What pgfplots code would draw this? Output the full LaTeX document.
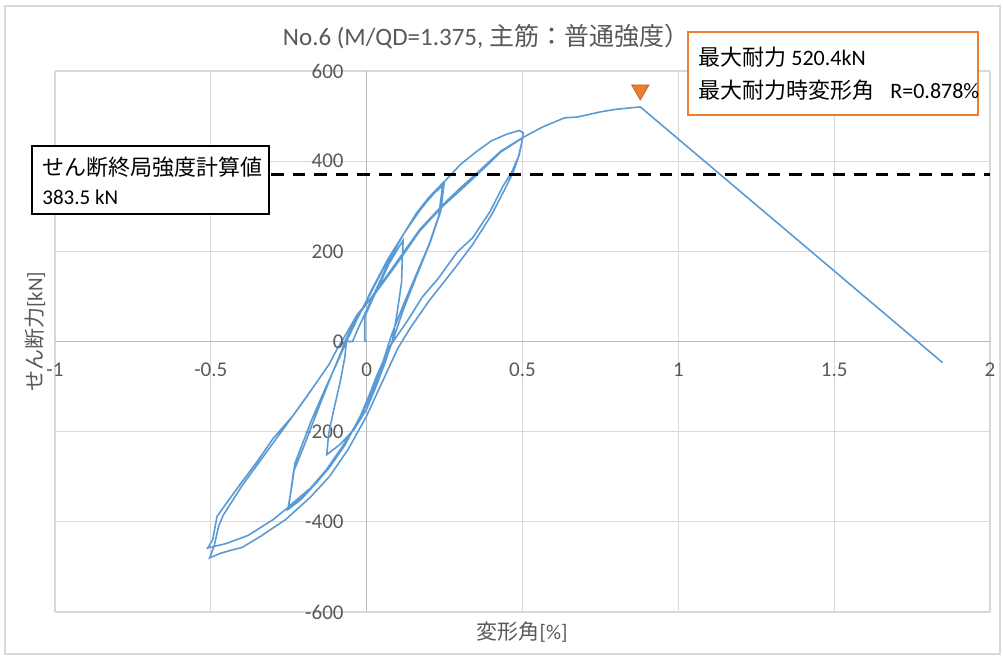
\documentclass[border=0pt]{standalone}
\usepackage{fontspec}
\setmainfont{Carlito}
\newfontfamily\jp{Noto Sans CJK JP}
\usepackage{pgfplots}
\pgfplotsset{compat=1.18}
\definecolor{exblue}{HTML}{5B9BD5}
\definecolor{exorange}{HTML}{ED7D31}
\definecolor{txtgray}{HTML}{595959}
\definecolor{gridgray}{HTML}{D9D9D9}

\begin{document}
\begin{tikzpicture}
\useasboundingbox (-27.5pt,-23pt) rectangle (474pt,306pt);
\draw[gray!30, line width=0.6pt] (-25pt,-21pt) rectangle (472.5pt,303pt);
\begin{axis}[
    scale only axis,
    width=467.5pt, height=270.5pt,
    xmin=-1, xmax=2, ymin=-600, ymax=600,
    axis lines=middle,
    axis line style={-, draw=gray!55, line width=0.6pt},
    xtick={-1,-0.5,0,0.5,1,1.5,2},
    ytick={-600,-400,-200,0,200,400,600},
    grid=major,
    major grid style={gridgray, line width=0.6pt},
    major tick length=0pt,
    ticklabel style={font=\fontsize{10.5}{12}\selectfont, text=txtgray},
    /pgf/number format/assume math mode=true,
    xticklabel style={yshift=-7pt},
    yticklabel style={xshift=-8pt},
]
% load-deformation history
\addplot[exblue, line width=0.8pt] coordinates {
(0,0) (-0.006,2) (-0.006,55) (0.01,80) (0.04,125) (0.07,170) (0.095,200) (0.117,224)
(0.114,178) (0.112,131) (0.096,56) (0.083,4) (0.06,-45) (0.03,-100) (0,-150) (-0.04,-195) (-0.085,-228) (-0.128,-251)
(-0.122,-205) (-0.105,-150) (-0.085,-90) (-0.07,-35) (-0.065,0) (-0.045,0)
(-0.03,25) (0.0,70) (0.04,130) (0.08,190) (0.12,240) (0.16,285) (0.2,320) (0.245,352)
(0.231,278) (0.2,215) (0.16,150) (0.12,85) (0.08,15) (0.05,-50) (0.02,-100) (-0.02,-165) (-0.07,-230) (-0.12,-280) (-0.17,-320) (-0.21,-350) (-0.253,-373)
(-0.24,-320) (-0.23,-270) (-0.176,-173) (-0.13,-100) (-0.09,-40) (-0.065,0)
(-0.03,50) (0.02,120) (0.07,185) (0.12,240) (0.17,290) (0.21,325) (0.248,348)
(0.238,290) (0.205,222) (0.16,145) (0.12,75) (0.085,5) (0.05,-60) (0.01,-125) (-0.03,-180) (-0.08,-235) (-0.13,-285) (-0.18,-325) (-0.25,-366)
(-0.235,-290) (-0.2,-230) (-0.15,-140) (-0.11,-70) (-0.08,-20) (-0.07,0)
(0.0,90) (0.06,170) (0.12,240) (0.18,300) (0.25,355) (0.3,392) (0.35,420) (0.4,445) (0.45,460) (0.49,468) (0.502,463) (0.5,449)
(0.487,410) (0.465,375) (0.437,344) (0.395,287) (0.34,230) (0.29,198) (0.23,140) (0.18,100) (0.13,45) (0.074,-11) (0.03,-80) (-0.013,-158) (-0.08,-240) (-0.16,-313) (-0.22,-350) (-0.3,-395) (-0.38,-430) (-0.45,-448) (-0.51,-458)
(-0.494,-440) (-0.48,-388) (-0.42,-330) (-0.35,-265) (-0.3,-215) (-0.237,-165) (-0.17,-100) (-0.12,-50) (-0.096,-18) (-0.08,0)
(-0.03,60) (0.03,109) (0.1,175) (0.17,245) (0.244,300) (0.3,335) (0.37,380) (0.43,420) (0.49,447) (0.5,450)
(0.49,415) (0.47,375) (0.445,340) (0.4,280) (0.34,215) (0.28,160) (0.2,90) (0.14,30) (0.1,-15) (0.05,-90) (0.0,-165) (-0.06,-240) (-0.12,-300) (-0.18,-345) (-0.26,-395) (-0.34,-432) (-0.4,-457) (-0.43,-462) (-0.47,-470) (-0.504,-480)
(-0.49,-455) (-0.475,-410) (-0.46,-385) (-0.4,-320) (-0.3,-225) (-0.2,-130) (-0.12,-50) (-0.09,-10) (-0.07,0)
(-0.03,55) (0.03,112) (0.1,180) (0.17,248) (0.244,303) (0.3,340) (0.37,384) (0.43,422) (0.5,452) (0.565,476) (0.635,496) (0.677,498) (0.748,509) (0.8,515) (0.878,520.4) (1.848,-47)
};
% calculated ultimate shear strength
\addplot[black, line width=1.5pt, dash pattern=on 6.3pt off 4.5pt] coordinates {(-1,370) (2,370)};
% max strength marker
\addplot[only marks, mark=triangle*, mark size=5pt,
  mark options={rotate=180, fill=exorange, draw=exorange!80!black, line width=0.4pt}]
  coordinates {(0.878,558)};
% origin tick labels (hidden by middle axis lines)
\node[anchor=north, yshift=-7pt, text=txtgray, font=\fontsize{10.5}{12}\selectfont] at (axis cs:0,0) {0};
\node[anchor=east, xshift=-8pt, text=txtgray, font=\fontsize{10.5}{12}\selectfont] at (axis cs:0,0) {0};
\end{axis}

% title and axis labels
\node[text=txtgray] at (215.5pt,287.5pt) {\fontsize{12.5}{14}\selectfont No.6 (M/QD=1.375, {\jp 主筋：普通強度）}};
\node[text=txtgray] at (233.5pt,-10pt) {\fontsize{10.5}{12}\selectfont{\jp 変形角}[\%]};
\node[text=txtgray, rotate=90] at (-10pt,140pt) {\fontsize{10.5}{12}\selectfont{\jp せん断力}[kN]};

% annotation boxes
\filldraw[fill=white, draw=black, line width=0.6pt] (-11.5pt,199pt) rectangle (107pt,233pt);
\node[anchor=west, inner sep=0pt] at (-6.5pt,222.5pt) {\jp\fontsize{11}{13}\selectfont せん断終局強度計算値};
\node[anchor=west, inner sep=0pt] at (-6.5pt,207.5pt) {\fontsize{10.5}{12}\selectfont 383.5 kN};

\filldraw[fill=white, draw=exorange, line width=0.6pt] (316.5pt,248.5pt) rectangle (461.5pt,290pt);
\node[anchor=west, inner sep=0pt] at (321.5pt,277.5pt) {\fontsize{11}{13}\selectfont{\jp 最大耐力} 520.4kN};
\node[anchor=west, inner sep=0pt] at (321.5pt,261pt) {\fontsize{11}{13}\selectfont{\jp 最大耐力時変形角}\hspace{8pt}R=0.878\%};
\end{tikzpicture}
\end{document}
